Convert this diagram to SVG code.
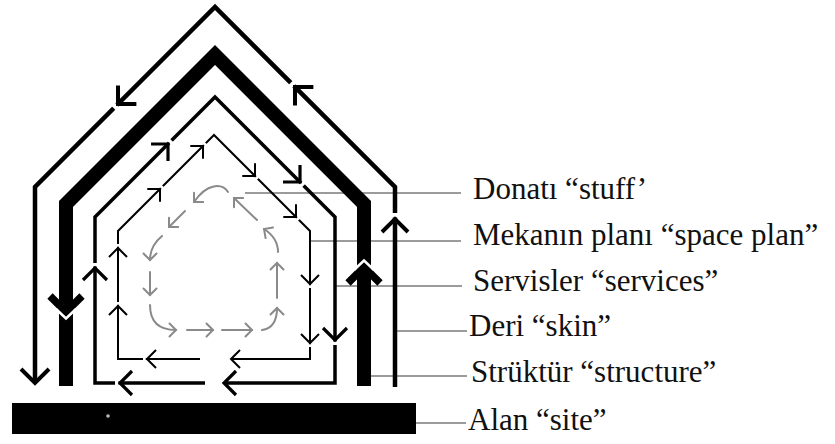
<svg xmlns="http://www.w3.org/2000/svg" xmlns:xlink="http://www.w3.org/1999/xlink" width="835" height="444" viewBox="0 0 835 444">
<style>
.ln{fill:none;stroke:#000;stroke-linejoin:miter;stroke-miterlimit:10}
.skin{stroke-width:4.5}
.str{stroke-width:14}
.srv{stroke-width:3.5}
.spc{stroke-width:2}
.stf{fill:none;stroke:#8a8a8a;stroke-width:2;stroke-linecap:round}
.lead{stroke:#7a7a7a;stroke-width:1.5}
.lbl{font-family:"Liberation Serif","Times New Roman",serif;font-size:31px;fill:#111}
</style>
<defs>
<g id="aSkin"><path d="M1.5,0 H6" stroke="#fff" stroke-width="7" fill="none"/><path d="M-13,-13 L0,0 L-13,13" fill="none" stroke="#000" stroke-width="4"/></g>
<g id="aSkinEnd"><path d="M-14,-14 L0,0 L-14,14" fill="none" stroke="#000" stroke-width="4"/></g>
<g id="aStr"><path d="M-16,-16 L0,0 L-16,16" fill="none" stroke="#000" stroke-width="7.5"/><path d="M-3,-10 L6.5,0 L-3,10" fill="none" stroke="#fff" stroke-width="2.5"/></g>
<g id="aSrv"><path d="M1.5,0 H5" stroke="#fff" stroke-width="6" fill="none"/><path d="M-12,-12 L0,0 L-12,12" fill="none" stroke="#000" stroke-width="3.2"/></g>
<g id="aSpc"><path d="M1.2,0 H4" stroke="#fff" stroke-width="4" fill="none"/><path d="M-9,-9 L0,0 L-9,9" fill="none" stroke="#000" stroke-width="2"/></g>
<g id="aStf"><path d="M-6.5,-6.5 L0,0 L-6.5,6.5" fill="none" stroke="#8a8a8a" stroke-width="2" stroke-linecap="round"/></g>
</defs>
<rect width="835" height="444" fill="#fff"/>

<g id="connectors">
<line class="lead" x1="245" y1="193" x2="461" y2="193"/>
<line class="lead" x1="310" y1="241" x2="461" y2="241"/>
<line class="lead" x1="336" y1="286" x2="462" y2="286"/>
<line class="lead" x1="397" y1="331" x2="467" y2="331"/>
<line class="lead" x1="371" y1="376" x2="467" y2="376"/>
<line class="lead" x1="416" y1="423" x2="466" y2="423"/>
</g>

<g id="skin">
<path class="ln skin" d="M35,381 V187 L215,7 L395,187 V387"/>
<use xlink:href="#aSkin" transform="translate(118,104) rotate(135)"/>
<use xlink:href="#aSkin" transform="translate(295,87) rotate(225)"/>
<use xlink:href="#aSkin" transform="translate(395,219) rotate(270)"/>
<use xlink:href="#aSkinEnd" transform="translate(35,383) rotate(90)"/>
</g>

<g id="structure">
<path class="ln str" d="M66,386 V204 L215,55 L364,204 V386"/>
<use xlink:href="#aStr" transform="translate(66,312) rotate(90)"/>
<use xlink:href="#aStr" transform="translate(364,267) rotate(270)"/>
</g>

<g id="services">
<path class="ln srv" d="M205,383 H95 V217 L215,97 L335,217 V383 H225"/>
<use xlink:href="#aSrv" transform="translate(168,144) rotate(-45)"/>
<use xlink:href="#aSrv" transform="translate(300,182) rotate(45)"/>
<use xlink:href="#aSrv" transform="translate(335,340) rotate(90)"/>
<use xlink:href="#aSrv" transform="translate(120,383) rotate(180)"/>
<use xlink:href="#aSrv" transform="translate(224,383) rotate(180)"/>
<use xlink:href="#aSrv" transform="translate(95,268) rotate(270)"/>
</g>

<g id="space-plan">
<path class="ln spc" d="M200,359 H118 V231 L214,135 L310,231 V359 H231"/>
<use xlink:href="#aSpc" transform="translate(203,146) rotate(-45)"/>
<use xlink:href="#aSpc" transform="translate(160,189) rotate(-45)"/>
<use xlink:href="#aSpc" transform="translate(255,176) rotate(45)"/>
<use xlink:href="#aSpc" transform="translate(296,217) rotate(45)"/>
<use xlink:href="#aSpc" transform="translate(310,284) rotate(90)"/>
<use xlink:href="#aSpc" transform="translate(310,343) rotate(90)"/>
<use xlink:href="#aSpc" transform="translate(147,359) rotate(180)"/>
<use xlink:href="#aSpc" transform="translate(231,359) rotate(180)"/>
<use xlink:href="#aSpc" transform="translate(118,248) rotate(270)"/>
<use xlink:href="#aSpc" transform="translate(118,306) rotate(270)"/>
</g>

<g id="stuff">
<path class="stf" d="M228,192 C222,183 207,183 194,202"/>
<use xlink:href="#aStf" transform="translate(194,202) rotate(135)"/>
<path class="stf" d="M185,211 L169,227"/>
<use xlink:href="#aStf" transform="translate(169,227) rotate(135)"/>
<path class="stf" d="M162,236 Q150,246 150,260"/>
<use xlink:href="#aStf" transform="translate(150,260) rotate(90)"/>
<path class="stf" d="M150,272 V295"/>
<use xlink:href="#aStf" transform="translate(150,295) rotate(90)"/>
<path class="stf" d="M150,305 Q150,330 176,330"/>
<use xlink:href="#aStf" transform="translate(176,330) rotate(0)"/>
<path class="stf" d="M187,330 H213"/>
<use xlink:href="#aStf" transform="translate(213,330) rotate(0)"/>
<path class="stf" d="M222,330 H252"/>
<use xlink:href="#aStf" transform="translate(252,330) rotate(0)"/>
<path class="stf" d="M262,330 Q277,328 277,308"/>
<use xlink:href="#aStf" transform="translate(277,308) rotate(270)"/>
<path class="stf" d="M277,298 V263"/>
<use xlink:href="#aStf" transform="translate(277,263) rotate(270)"/>
<path class="stf" d="M278,252 Q278,238 264,229"/>
<use xlink:href="#aStf" transform="translate(264,229) rotate(215)"/>
<path class="stf" d="M257,220 L234,198"/>
<use xlink:href="#aStf" transform="translate(234,198) rotate(225)"/>
</g>

<g id="site">
<rect x="12" y="403" width="404" height="31" fill="#000"/>
<circle cx="108" cy="416" r="1.8" fill="#bbb"/>
</g>

<g id="labels">
<text class="lbl" x="473" y="199">Donatı “stuff’</text>
<text class="lbl" x="473" y="245">Mekanın planı “space plan”</text>
<text class="lbl" x="473" y="291">Servisler “services”</text>
<text class="lbl" x="469" y="336">Deri “skin”</text>
<text class="lbl" x="471" y="382">Strüktür “structure”</text>
<text class="lbl" x="468" y="430">Alan “site”</text>
</g>
</svg>
